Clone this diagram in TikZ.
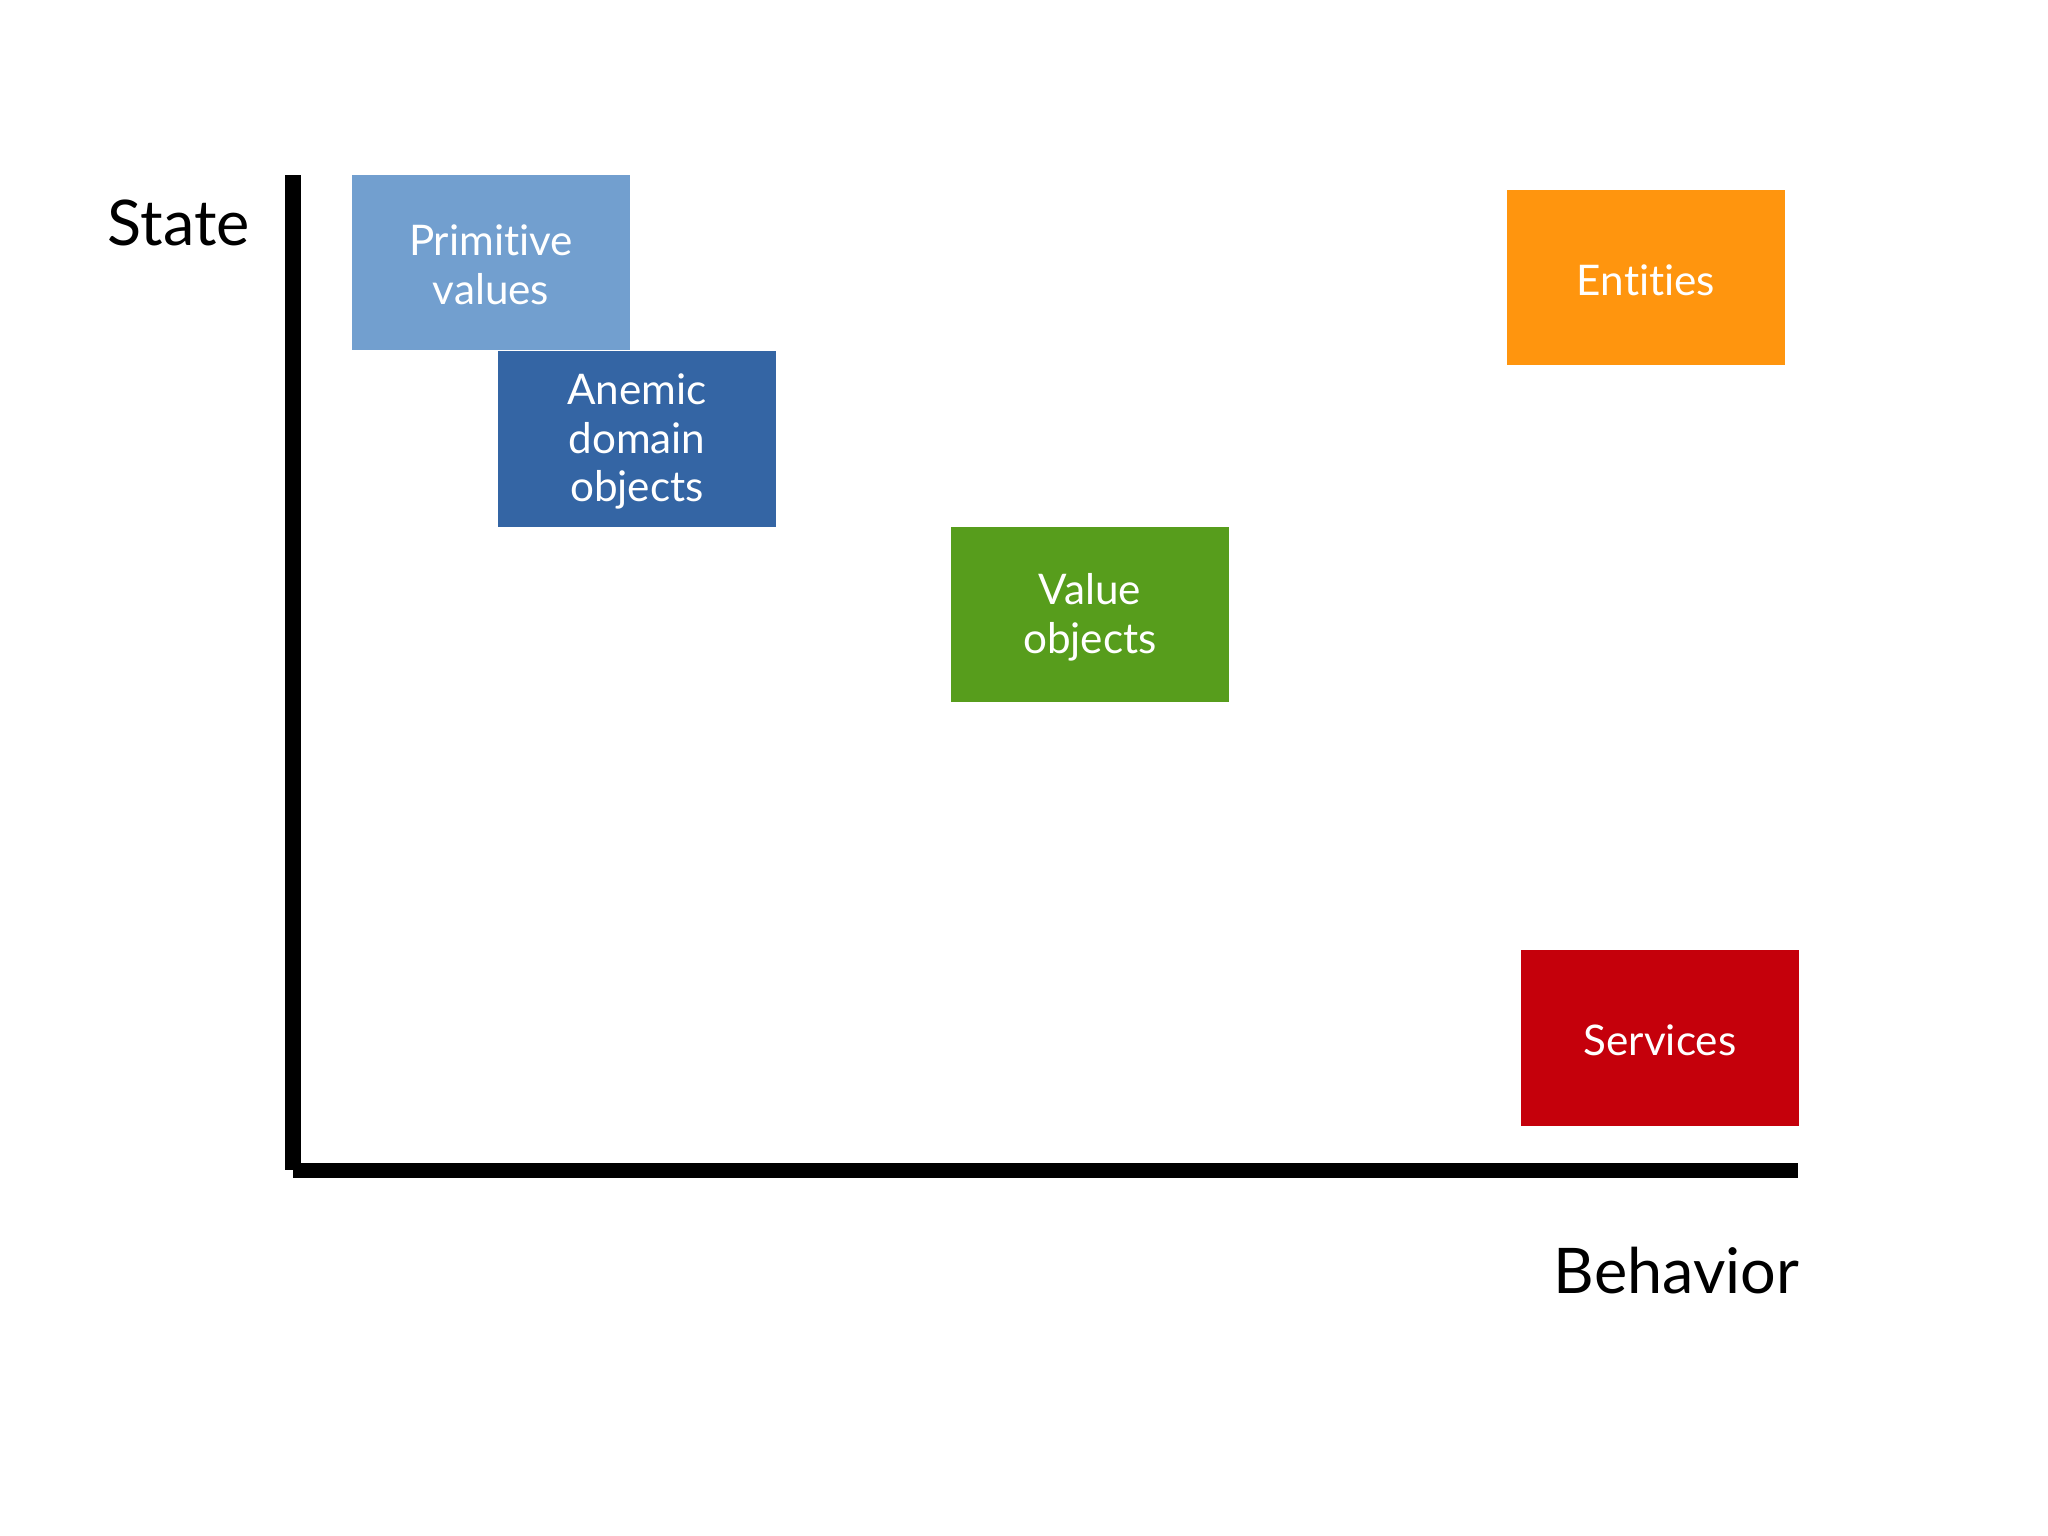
\documentclass[tikz,border=0pt]{standalone}
\usepackage{fontspec}
\setmainfont{Lato}[Ligatures=NoCommon]
\usetikzlibrary{positioning}

\definecolor{primblue}{HTML}{729FCF}
\definecolor{anemblue}{HTML}{3465A4}
\definecolor{valgreen}{HTML}{579D1C}
\definecolor{entorange}{HTML}{FF950E}
\definecolor{servred}{HTML}{C5000B}

\tikzset{
  catbox/.style={rectangle, inner sep=0pt, minimum width=2.78cm, minimum height=1.75cm},
  boxtext/.style={inner sep=0pt, text=white, align=center, yshift=-0.025cm,
    font=\fontsize{12pt}{13.9pt}\selectfont},
  axislabel/.style={inner sep=0pt, font=\fontsize{17.9pt}{21pt}\selectfont},
  axisline/.style={line width=0.15cm}
}

\begin{document}
\begin{tikzpicture}[x=0.01cm, y=-0.01cm]
  \useasboundingbox[fill=white] (0,0) rectangle (2048,1535);

  % axes
  \coordinate (Ytop) at (293,175);
  \coordinate (Ybot) at (293,1169.5);
  \coordinate (O) at (292.5,1170);
  \coordinate (Xend) at (1798,1170);
  \draw[axisline] (Ytop) -- (Ybot);
  \draw[axisline] (O) -- (Xend);

  \node[axislabel, anchor=base west] (State) at (107,245) {State};
  \node[axislabel, anchor=base east] (Behavior) at (1800,1293) {Behavior};

  % categories
  \node[catbox, fill=primblue, label={[boxtext]center:Primitive\\values}] (PV) at (491,262.5) {};
  \node[catbox, fill=anemblue, label={[boxtext]center:Anemic\\domain\\objects}] (AD) at (637,439) {};
  \node[catbox, fill=valgreen, label={[boxtext]center:Value\\objects}] (VO) at (1090,614.5) {};
  \node[catbox, fill=entorange, label={[boxtext]center:Entities}] (EN) at (1646,277.5) {};
  \node[catbox, fill=servred, label={[boxtext]center:Services}] (SV) at (1660,1038) {};
\end{tikzpicture}
\end{document}
